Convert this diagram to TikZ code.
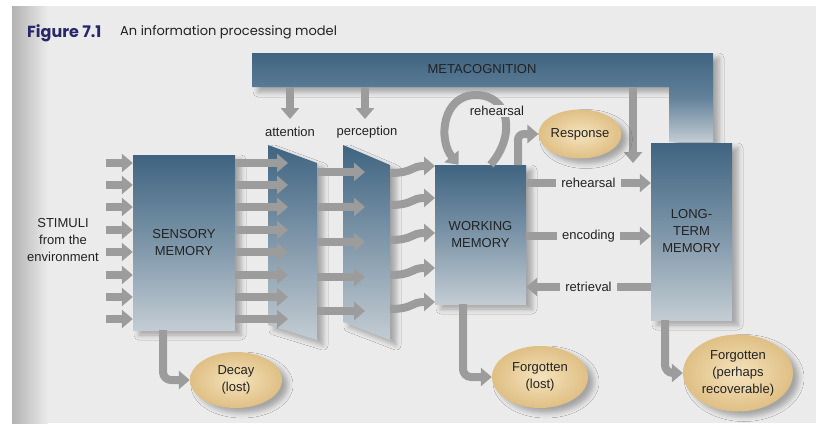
\documentclass[tikz,border=0pt]{standalone}
\usepackage{fontspec}
\setmainfont{Liberation Sans}
\newfontfamily\titlefont{Poppins}
\usetikzlibrary{arrows.meta,shapes.geometric,shadows.blur,calc}

\definecolor{bgc}{HTML}{EBEBEB}
\definecolor{steeltop}{HTML}{3F6481}
\definecolor{steelmid}{HTML}{7C95A8}
\definecolor{steelbot}{HTML}{C3CCD3}
\definecolor{barmid}{HTML}{62819A}
\definecolor{arrowgray}{HTML}{9C9C9C}
\definecolor{tanin}{HTML}{F5E3BD}
\definecolor{tanout}{HTML}{DFBF84}
\definecolor{navy}{HTML}{29266A}
\definecolor{ink}{HTML}{222222}

\tikzset{
  lbl/.style={font=\fontsize{13}{17}\selectfont, text=ink, align=center, inner sep=1pt},
  softshadow/.style={blur shadow={shadow xshift=6pt, shadow yshift=-5pt,
      shadow opacity=30, shadow blur radius=5pt}},
  memorybox/.style={rectangle, top color=steeltop, bottom color=steelbot,
      middle color=steelmid, softshadow, lbl, inner sep=0pt},
  panel/.style={top color=steeltop, bottom color=steelbot, softshadow},
  metabar/.style={top color=steeltop, bottom color=steelbot, middle color=barmid, softshadow},
  outcome/.style={ellipse, inner color=tanin, outer color=tanout, softshadow,
      lbl, inner sep=0pt},
  garrow/.style={draw=arrowgray, line width=8pt, -{Triangle[length=11pt,width=18pt]}},
  onbar/.style={lbl, fill=bgc, inner xsep=5pt, inner ysep=2pt},
}

\begin{document}
\begin{tikzpicture}[x=1pt,y=-1pt]
\useasboundingbox (0,0) rectangle (816,423);

% page background with the shadow of the binding on the left
\fill[white] (0,0) rectangle (816,423);
\fill[bgc] (12,6) rectangle (816,423);
\shade[left color=black!30, right color=bgc] (12,6) rectangle (48,423);

% caption
\node[anchor=base west, inner sep=0pt, text=navy,
      font=\titlefont\bfseries\fontsize{16}{19}\selectfont] (fignum) at (27,37) {Figure 7.1};
\node[anchor=base west, inner sep=0pt, text=ink,
      font=\titlefont\fontsize{13}{16}\selectfont] (figcap) at (120,35) {An information processing model};

% metacognition bar bending down towards long-term memory
\path[metabar] (252,53) -- (713,53) -- (713,142) -- (669,142) -- (669,87) -- (252,87) -- cycle;
\node[lbl] (meta) at (482,69) {METACOGNITION};
\coordinate (metaA) at (290,87);
\coordinate (metaP) at (365,87);
\coordinate (metaL) at (633,87);

% stores
\node[memorybox, minimum width=102pt, minimum height=175pt] (sm) at (184,242.5) {SENSORY\\MEMORY};
\node[memorybox, minimum width=91pt, minimum height=139pt] (wm) at (480.5,234.5) {WORKING\\MEMORY};
\node[memorybox, minimum width=81pt, minimum height=177pt] (ltm) at (691.5,231.5) {LONG-\\TERM\\MEMORY};

% attention and perception filters
\path[panel] (268,145) -- (317,163) -- (317,340) -- (268,325) -- cycle;
\path[panel] (343,145) -- (390,165) -- (390,340) -- (343,322) -- cycle;
\node[lbl] (att) at (290,132) {attention};
\node[lbl] (per) at (367,132) {perception};
\draw[garrow] (metaA) -- (290,119);
\draw[garrow] (metaP) -- (365,119);
\draw[garrow] (metaL) -- (633,163);

% stimuli
\node[lbl] (stim) at (63,240) {STIMULI\\from the\\environment};
\foreach \y [count=\i] in {163,185,207,230,252,275,297,319} {
  \coordinate (st\i) at (106,\y);
  \coordinate (at\i) at (288,\y);
  \draw[garrow] (st\i) -- (st\i -| sm.west);
  \draw[garrow] (st\i -| sm.east) -- (at\i);
}
\foreach \y [count=\i] in {172,207,242,277,311} {
  \coordinate (af\i) at (317,\y);
  \coordinate (pf\i) at (365,\y);
  \draw[garrow] (af\i) -- (pf\i);
}
\foreach \y [count=\i] in {166,198,233,268,302} {
  \coordinate (po\i) at (390,\y+7);
  \coordinate (wi\i) at (435,\y);
  \draw[garrow] (po\i) .. controls (414,\y+7) and (410,\y) .. (wi\i);
}

% rehearsal loop on working memory
\coordinate (loopout) at ($(wm.north)+(10,0)$);
\coordinate (loopin) at ($(wm.north)+(-22,0)$);
\draw[garrow] (loopout) .. controls (516,136) and (510,95) .. (476,95)
              .. controls (442,95) and (438,140) .. (loopin);
\node[lbl, fill=bgc, inner xsep=3pt] (loopl) at (497,111) {rehearsal};

% response
\node[outcome, minimum width=72pt, minimum height=49pt] (resp) at (580,134) {Response};
\coordinate (respfoot) at (518,165);
\draw[garrow, rounded corners=6pt] (respfoot) |- (resp.west);

% exchanges between working and long-term memory
\coordinate (rrow) at (588,183);
\coordinate (erow) at (588,236);
\coordinate (trow) at (588,287);
\draw[garrow] (wm.east |- rrow) -- (ltm.west |- rrow) node[midway, onbar] {rehearsal};
\draw[garrow] (wm.east |- erow) -- (ltm.west |- erow) node[midway, onbar] {encoding};
\draw[garrow] (ltm.west |- trow) -- (wm.east |- trow) node[midway, onbar] {retrieval};

% losses
\node[outcome, minimum width=92pt, minimum height=56pt] (decay) at (236,380) {Decay\\(lost)};
\node[outcome, minimum width=96pt, minimum height=62pt] (flost) at (540,377) {Forgotten\\(lost)};
\node[outcome, minimum width=110pt, minimum height=77pt] (frec) at (738,373) {Forgotten\\(perhaps\\recoverable)};
\coordinate (smfoot) at (163,330);
\coordinate (wmfoot) at (463,304);
\coordinate (ltmfoot) at (665,320);
\draw[garrow, rounded corners=8pt] (smfoot) |- (decay.west);
\draw[garrow, rounded corners=8pt] (wmfoot) |- (flost.west);
\draw[garrow, rounded corners=8pt] (ltmfoot) |- (frec.west);
\end{tikzpicture}
\end{document}
